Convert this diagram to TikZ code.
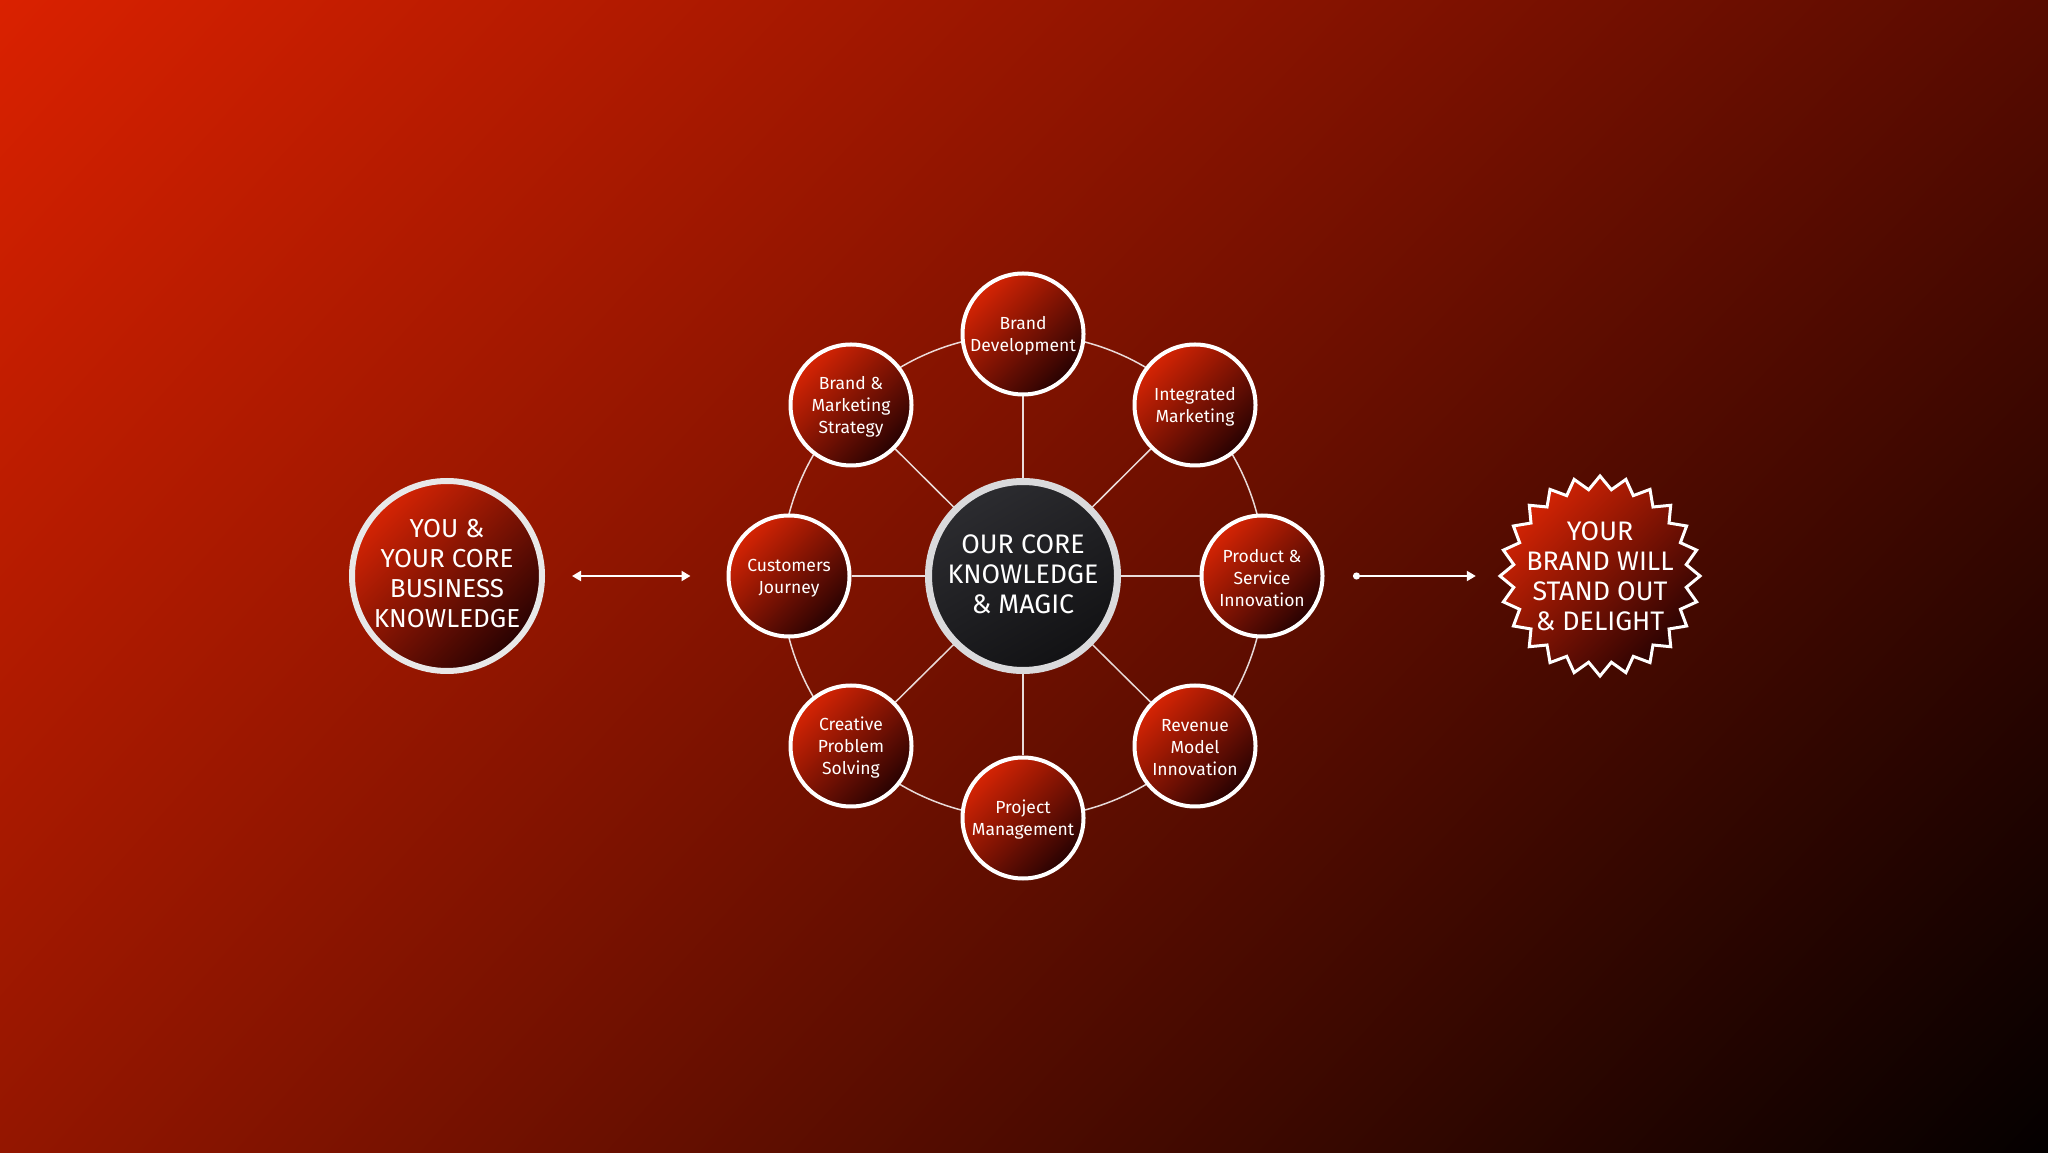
\documentclass[tikz,border=0pt]{standalone}
\usepackage{fontspec}
\setmainfont{Fira Sans}
\usetikzlibrary{arrows.meta,shadings}
\definecolor{bgTL}{RGB}{218,33,0}
\definecolor{bgTR}{RGB}{88,11,0}
\definecolor{bgBL}{RGB}{148,22,0}
\definecolor{bgBR}{RGB}{4,0,0}
\definecolor{ballA}{RGB}{214,36,4}
\definecolor{ballB}{RGB}{40,2,2}
\definecolor{coreA}{RGB}{44,44,48}
\definecolor{coreB}{RGB}{18,18,20}
\definecolor{rimlight}{RGB}{232,232,232}
\definecolor{rimcore}{RGB}{218,218,220}
\begin{document}
\begin{tikzpicture}[x=1pt,y=1pt,
  redball/.style={circle, inner sep=0pt,
    top color=ballA, bottom color=ballB, shading angle=45},
  sat/.style={redball, minimum size=121pt, line width=4pt, draw=white},
  sattext/.style={text=white, align=center, inner sep=0pt, yshift=-2pt,
    font=\fontsize{17.5}{22}\selectfont},
  bigball/.style={redball, minimum size=190pt, line width=6pt, draw=rimlight},
  bigtext/.style={text=white, align=center, inner sep=0pt,
    font=\fontsize{26}{30}\selectfont},
  corenode/.style={circle, inner sep=0pt, minimum size=189pt, line width=7pt,
    draw=rimcore, top color=coreA, bottom color=coreB, shading angle=30},
  starnode/.style={circle, inner sep=0pt, minimum size=200pt},
  link/.style={draw=white, draw opacity=0.85, line width=1.5pt},
  arrowline/.style={draw=white, line width=2pt},
  tri/.tip={Triangle[length=9pt,width=10pt]}
]
\useasboundingbox (0,0) rectangle (2048,1152);
\shade[shading=bilinear interpolation, upper left=bgTL, upper right=bgTR, lower left=bgBL, lower right=bgBR]
  (0,0) rectangle (2048,1152);

% outer ring behind the eight satellites
\draw[link] (1023,576) circle[radius=242];

% star shape (drawn directly)
\shade[shift={(1600,576)}, top color=ballA, bottom color=ballB, shading angle=45,
  draw=white, line width=3pt, line join=miter]
  (90:100) \foreach \i [evaluate=\i as \r using {100-13*isodd(\i)}] in {1,...,47}{ -- ({90+7.5*\i}:\r) } -- cycle;

% nodes
\node[corenode, label={[bigtext, yshift=2pt, font=\fontsize{26.8}{30}\selectfont]center:{OUR CORE\\KNOWLEDGE\\\& MAGIC}}] (core) at (1023,576) {};
\node[sat, label={[sattext]center:{Brand\\Development}}] (bd)  at (1023,818) {};
\node[sat, label={[sattext]center:{Integrated\\Marketing}}] (im)  at (1195,747) {};
\node[sat, label={[sattext]center:{Product \&\\Service\\Innovation}}] (psi) at (1262,576) {};
\node[sat, label={[sattext]center:{Revenue\\Model\\Innovation}}] (rmi) at (1195,406) {};
\node[sat, label={[sattext]center:{Project\\Management}}] (pm)  at (1023,334) {};
\node[sat, label={[sattext]center:{Creative\\Problem\\Solving}}] (cps) at (851,406)  {};
\node[sat, label={[sattext]center:{Customers\\Journey}}] (cj)  at (789,576)  {};
\node[sat, label={[sattext]center:{Brand \&\\Marketing\\Strategy}}] (bms) at (851,747)  {};
\node[bigball, label={[bigtext, yshift=2pt]center:{YOU \&\\YOUR CORE\\BUSINESS\\KNOWLEDGE}}] (you) at (447,576) {};
\node[starnode, label={[bigtext, font=\fontsize{26.8}{30}\selectfont]center:{YOUR\\BRAND WILL\\STAND OUT\\\& DELIGHT}}] (star) at (1600,576) {};
\coordinate (dot) at (1353,576);

% spokes
\foreach \s in {bd,im,psi,rmi,pm,cps,cj,bms}{ \draw[link] (core) -- (\s); }

% arrows
\draw[arrowline, tri-tri, shorten <=27pt, shorten >=36pt] (you) -- (cj);
\draw[arrowline, {Circle[length=7pt]}-tri, shorten >=24pt] (dot) -- (star);
\end{tikzpicture}
\end{document}
